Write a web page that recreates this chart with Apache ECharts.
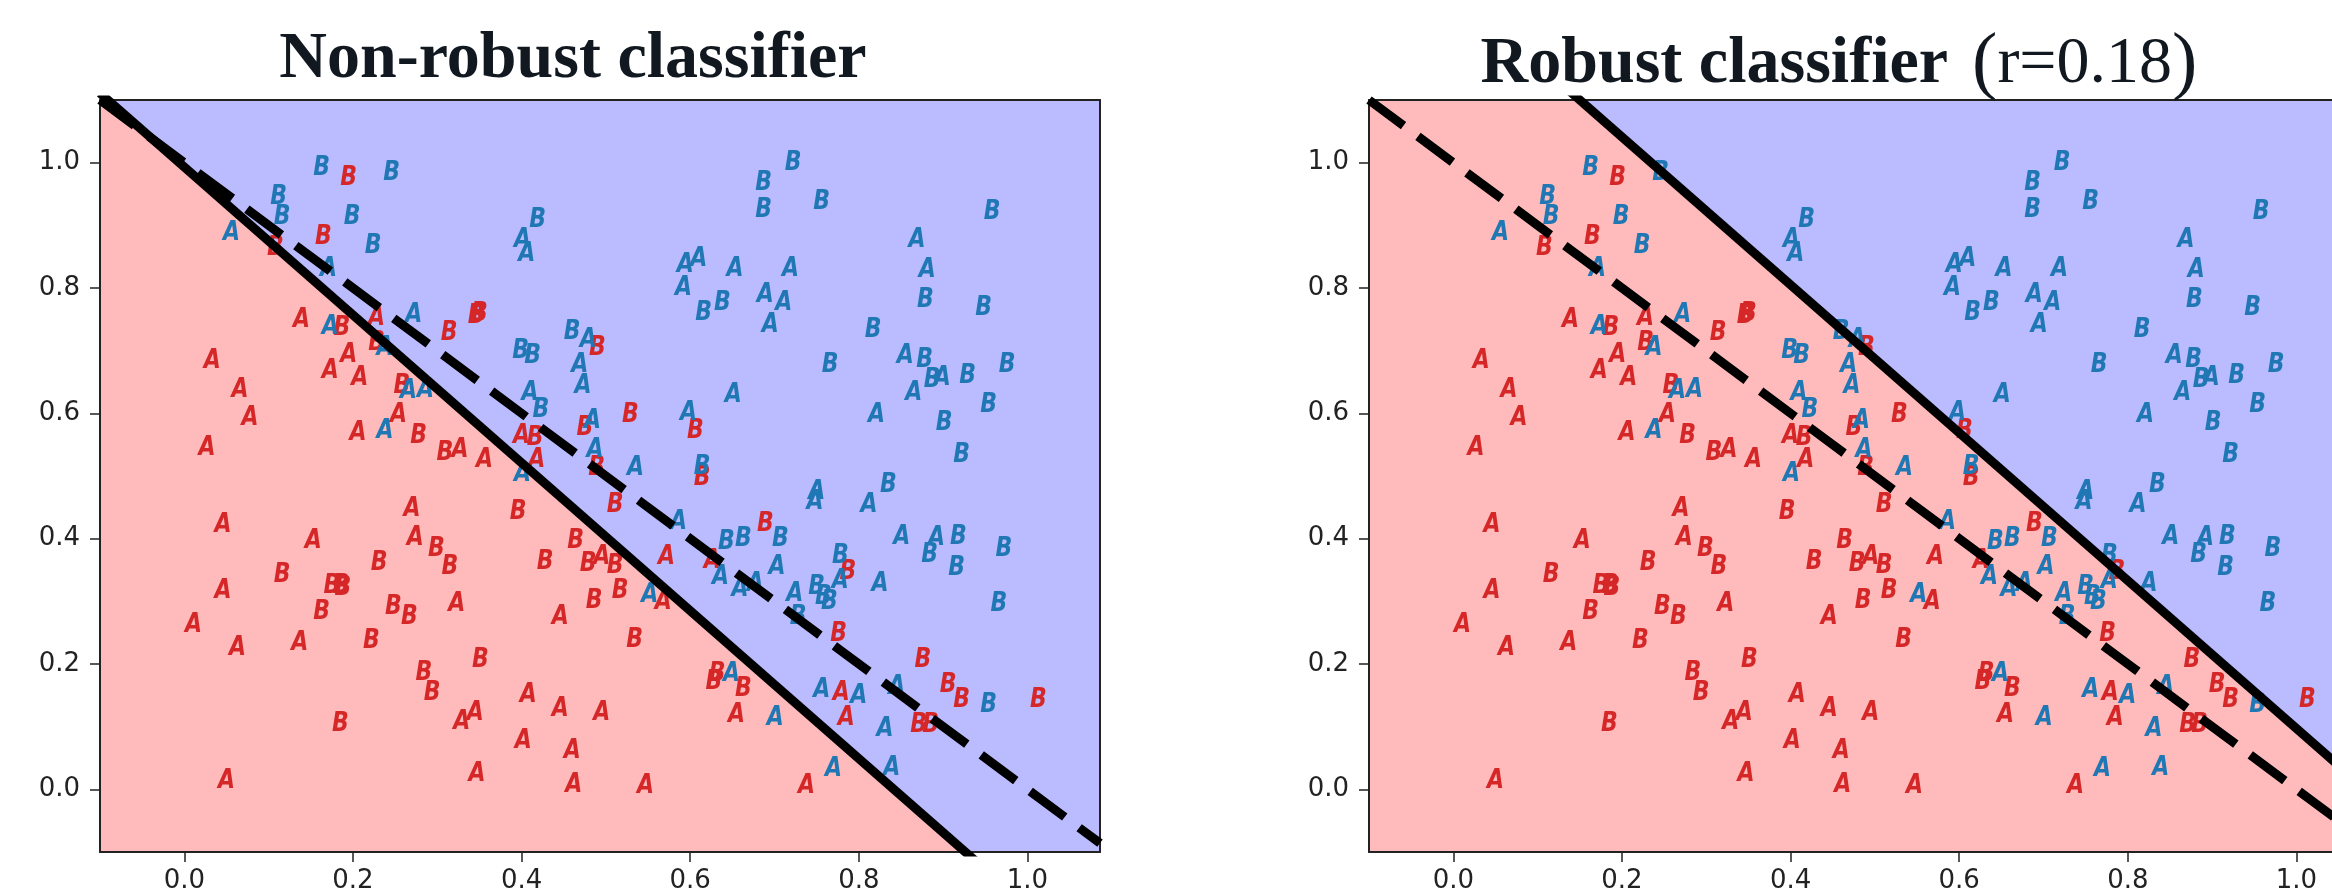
<!DOCTYPE html>
<html><head><meta charset="utf-8">
<script src="https://cdn.jsdelivr.net/npm/echarts@6/dist/echarts.min.js"></script>
<style>
html,body{margin:0;padding:0;overflow:hidden;background:#fff;width:2332px;height:889px}
#c{width:2400px;height:920px}
</style></head>
<body><div id="c"></div>
<script>
// ---------- data ----------
const redA = [
[0.139,0.749],[0.228,0.752],[0.195,0.693],[0.173,0.667],[0.208,0.656],[0.033,0.683],[0.066,0.637],[0.078,0.592],[0.027,0.545],[0.254,0.597],[0.206,0.568],
[0.400,0.563],[0.418,0.526],[0.327,0.542],[0.356,0.526],
[0.046,0.422],[0.270,0.447],[0.274,0.401],[0.153,0.397],[0.046,0.317],[0.011,0.262],[0.063,0.225],[0.137,0.234],[0.050,0.014],
[0.572,0.371],[0.626,0.365],[0.495,0.371],[0.323,0.296],[0.568,0.299],[0.446,0.275],[0.408,0.150],[0.345,0.121],[0.329,0.107],[0.446,0.128],[0.495,0.121],[0.402,0.077],[0.460,0.061],[0.347,0.025],[0.462,0.007],[0.547,0.006],[0.655,0.119],
[0.779,0.153],[0.785,0.113],[0.738,0.005]
];
const redB = [
[0.195,0.975],[0.165,0.882],[0.108,0.863],[0.187,0.736],[0.228,0.712],[0.258,0.643],[0.278,0.563],
[0.346,0.756],[0.350,0.759],[0.314,0.728],[0.490,0.704],[0.606,0.572],[0.529,0.597],[0.475,0.576],[0.416,0.560],[0.309,0.536],[0.489,0.512],[0.614,0.496],
[0.299,0.383],[0.231,0.361],[0.116,0.342],[0.175,0.325],[0.186,0.325],[0.188,0.321],[0.163,0.283],[0.248,0.291],[0.267,0.275],[0.222,0.236],[0.284,0.186],[0.294,0.154],[0.185,0.105],
[0.396,0.442],[0.511,0.453],[0.689,0.424],[0.464,0.397],[0.428,0.363],[0.479,0.360],[0.511,0.357],[0.315,0.355],[0.517,0.317],[0.486,0.301],[0.534,0.238],[0.351,0.206],[0.628,0.171],[0.632,0.184],[0.663,0.160],
[0.787,0.347],[0.776,0.248],[0.876,0.206],[0.906,0.166],[0.922,0.142],[1.013,0.142],[0.871,0.102],[0.885,0.102]
];
const blueA = [
[0.056,0.887],[0.171,0.831],[0.173,0.738],[0.272,0.757],[0.238,0.704],[0.266,0.635],[0.286,0.637],[0.238,0.571],
[0.401,0.877],[0.406,0.855],[0.594,0.837],[0.610,0.847],[0.653,0.831],[0.592,0.800],[0.689,0.789],[0.695,0.741],[0.479,0.717],[0.469,0.677],[0.473,0.644],[0.410,0.632],[0.651,0.629],[0.598,0.600],[0.484,0.587],[0.487,0.542],[0.535,0.512],[0.401,0.503],
[0.869,0.877],[0.881,0.829],[0.719,0.830],[0.711,0.776],[0.855,0.691],[0.899,0.656],[0.865,0.632],[0.821,0.597],
[0.586,0.426],[0.636,0.339],[0.659,0.320],[0.677,0.328],[0.703,0.355],[0.552,0.310],[0.649,0.184],[0.701,0.113],
[0.750,0.474],[0.748,0.458],[0.812,0.453],[0.851,0.402],[0.892,0.401],[0.778,0.333],[0.825,0.328],[0.724,0.312],[0.756,0.158],[0.800,0.149],[0.845,0.163],[0.831,0.096],[0.770,0.033],[0.839,0.034]
];
const blueB = [
[0.163,0.991],[0.246,0.984],[0.112,0.945],[0.116,0.913],[0.199,0.913],[0.224,0.867],
[0.687,0.967],[0.687,0.924],[0.419,0.908],[0.616,0.760],[0.638,0.776],[0.460,0.730],[0.399,0.700],[0.413,0.692],[0.423,0.605],[0.614,0.514],
[0.722,0.999],[0.756,0.937],[0.958,0.922],[0.879,0.781],[0.948,0.768],[0.817,0.733],[0.766,0.677],[0.878,0.685],[0.887,0.653],[0.929,0.659],[0.976,0.677],[0.954,0.613],[0.901,0.584],[0.922,0.533],[0.835,0.485],
[0.643,0.394],[0.663,0.400],[0.707,0.400],
[0.918,0.402],[0.884,0.374],[0.972,0.384],[0.916,0.353],[0.778,0.373],[0.750,0.323],[0.758,0.307],[0.765,0.299],[0.728,0.275],[0.966,0.296],[0.954,0.134]
];
const tickValues = [0, 0.2, 0.4, 0.6, 0.8, 1.0];
const xRange = [-0.1, 1.086];
const yRange = [-0.1, 1.1];
// decision boundaries: y = intercept + slope * x
const boundaryNonRobust = {intercept: 0.993, slope: -1.18};
const boundaryRobust = {intercept: 1.277, slope: -1.18};
const referenceLine = {intercept: 1.0, slope: -1.0};
const titleLeft = 'Non-robust classifier';
const titleRightBold = 'Robust classifier';
const titleRightParam = 'r=0.18';

// ---------- helpers ----------
const RED = '#d62728', BLUE = '#1f77b4';
const PINK = '#FFBBBB', LAVENDER = '#BBBBFF';
const INK = '#222222';

function clipPoly(poly, f) {
  const out = [];
  for (let i = 0; i < poly.length; i++) {
    const a = poly[i], b = poly[(i + 1) % poly.length];
    const fa = f(a), fb = f(b);
    if (fa >= 0) out.push(a);
    if ((fa >= 0) !== (fb >= 0)) {
      const t = fa / (fa - fb);
      out.push([a[0] + t * (b[0] - a[0]), a[1] + t * (b[1] - a[1])]);
    }
  }
  return out;
}

function regionSeries(line, gi) {
  return {
    type: 'custom', xAxisIndex: gi * 2, yAxisIndex: gi * 2, data: [[0, 0]], z: -1, silent: true,
    renderItem: (params, api) => {
      const rect = [[xRange[0], yRange[0]], [xRange[1], yRange[0]], [xRange[1], yRange[1]], [xRange[0], yRange[1]]];
      const g = p => p[1] - (line.intercept + line.slope * p[0]);
      const above = clipPoly(rect, g);
      const below = clipPoly(rect, p => -g(p));
      return {type: 'group', children: [
        {type: 'polygon', shape: {points: below.map(p => api.coord(p))}, style: {fill: PINK}},
        {type: 'polygon', shape: {points: above.map(p => api.coord(p))}, style: {fill: LAVENDER}}
      ]};
    }
  };
}

function lineSeries(line, gi, dashed) {
  return {
    type: 'line', xAxisIndex: gi * 2, yAxisIndex: gi * 2, z: 5, silent: true, symbol: 'none',
    data: xRange.map(x => [x, line.intercept + line.slope * x]),
    lineStyle: {color: '#000', width: 9, type: dashed ? [43, 18] : 'solid', cap: 'butt'},
    clip: true, animation: false
  };
}

function letterSeries(data, letter, color, gi) {
  return {
    type: 'custom', xAxisIndex: gi * 2, yAxisIndex: gi * 2, data: data, z: 3, silent: true, clip: true,
    encode: {x: 0, y: 1},
    renderItem: (params, api) => {
      const p = api.coord([api.value(0), api.value(1)]);
      return {type: 'text', x: p[0], y: p[1], scaleY: 1.22,
        style: {text: letter, fill: color, font: 'italic bold 22px "DejaVu Sans"', align: 'center', verticalAlign: 'middle'}};
    }
  };
}

function axesFor(gi) {
  const labelStyle = {fontSize: 26, fontFamily: 'DejaVu Sans', color: INK};
  const lineStyle = {color: INK, width: 2};
  return {
    x: [
      {type: 'value', gridIndex: gi, min: xRange[0], max: xRange[1], position: 'bottom',
       axisLine: {show: true, onZero: false, lineStyle},
       axisTick: {show: true, length: 10, customValues: tickValues, lineStyle: {color: INK, width: 1.5}},
       axisLabel: Object.assign({customValues: tickValues, formatter: v => v.toFixed(1), margin: 16}, labelStyle),
       splitLine: {show: false}},
      {type: 'value', gridIndex: gi, min: xRange[0], max: xRange[1], position: 'top',
       axisLine: {show: true, onZero: false, lineStyle}, axisTick: {show: false}, axisLabel: {show: false}, splitLine: {show: false}}
    ],
    y: [
      {type: 'value', gridIndex: gi, min: yRange[0], max: yRange[1], position: 'left',
       axisLine: {show: true, onZero: false, lineStyle},
       axisTick: {show: true, length: 10, customValues: tickValues, lineStyle: {color: INK, width: 1.5}},
       axisLabel: Object.assign({customValues: tickValues, formatter: v => v.toFixed(1), margin: 20}, labelStyle),
       splitLine: {show: false}},
      {type: 'value', gridIndex: gi, min: yRange[0], max: yRange[1], position: 'right',
       axisLine: {show: true, onZero: false, lineStyle}, axisTick: {show: false}, axisLabel: {show: false}, splitLine: {show: false}}
    ]
  };
}

const a0 = axesFor(0), a1 = axesFor(1);
const boundaries = [boundaryNonRobust, boundaryRobust];
const series = [];
[0, 1].forEach(gi => {
  series.push(regionSeries(boundaries[gi], gi));
  series.push(letterSeries(redA, 'A', RED, gi));
  series.push(letterSeries(redB, 'B', RED, gi));
  series.push(letterSeries(blueA, 'A', BLUE, gi));
  series.push(letterSeries(blueB, 'B', BLUE, gi));
  series.push(lineSeries(boundaries[gi], gi, false));
  series.push(lineSeries(referenceLine, gi, true));
});

const chart = echarts.init(document.getElementById('c'), null, {renderer: 'canvas'});
chart.setOption({
  animation: false,
  backgroundColor: '#fff',
  title: [
    {text: titleLeft, left: 568, top: 22, textAlign: 'center',
     textStyle: {fontFamily: 'Liberation Serif', fontWeight: 'bold', fontSize: 66, color: '#111820'}},
    {text: '{b|' + titleRightBold + '}{s| }{p|(}{r|' + titleRightParam + '}{p|)}', left: 1834, top: 22, textAlign: 'center',
     textStyle: {rich: {
       b: {fontFamily: 'Liberation Serif', fontWeight: 'bold', fontSize: 66, color: '#111820'},
       s: {fontFamily: 'Liberation Serif', fontSize: 66, width: 24},
       r: {fontFamily: 'Liberation Serif', fontWeight: 'normal', fontSize: 66, color: '#111820'},
       p: {fontFamily: 'Liberation Serif', fontWeight: 'normal', fontSize: 76, color: '#111820'}
     }}}
  ],
  grid: [
    {left: 100, top: 100, width: 1000, height: 752},
    {left: 1369, top: 100, width: 1000, height: 752}
  ],
  xAxis: a0.x.concat(a1.x),
  yAxis: a0.y.concat(a1.y),
  series: series
});
</script>
</body></html>
